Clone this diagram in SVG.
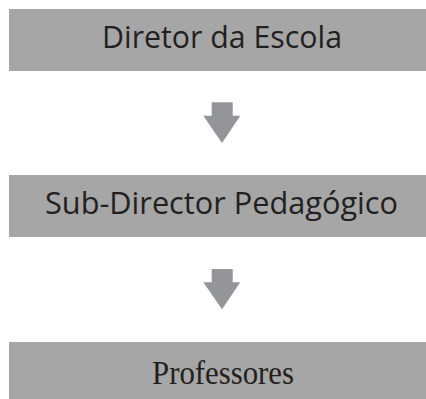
<svg xmlns="http://www.w3.org/2000/svg" width="426" height="399" viewBox="0 0 426 399">
<style>
.box{fill:#a6a6a6}
.arrow{fill:#939598}
.sans{font-family:"Open Sans","Noto Sans","DejaVu Sans",sans-serif;font-size:31px;fill:#231f20;text-anchor:middle}
.serif{font-family:"Liberation Serif","Times New Roman",serif;font-size:34px;fill:#231f20;text-anchor:middle}
</style>
<rect width="426" height="399" fill="#ffffff"/>
<g id="node-diretor">
<rect class="box" x="9" y="9" width="417" height="62"/>
<text class="sans" x="222" y="48.3" textLength="240" lengthAdjust="spacingAndGlyphs">Diretor da Escola</text>
</g>
<g id="node-subdirector">
<rect class="box" x="9" y="175" width="417" height="62"/>
<text class="sans" x="221.5" y="214.3" textLength="353" lengthAdjust="spacingAndGlyphs">Sub-Director Pedagógico</text>
</g>
<g id="node-professores">
<rect class="box" x="9" y="342" width="417" height="57"/>
<text class="serif" x="223" y="384.3" textLength="142" lengthAdjust="spacingAndGlyphs">Professores</text>
</g>
<g id="connectors">
<polygon class="arrow" points="211.7,102.3 232.7,102.3 232.7,115.7 240.3,115.7 222,143 203.3,115.7 211.7,115.7"/>
<polygon class="arrow" points="211.7,269 232.7,269 232.7,282.3 240.3,282.3 222,309.3 203.3,282.3 211.7,282.3"/>
</g>
</svg>
